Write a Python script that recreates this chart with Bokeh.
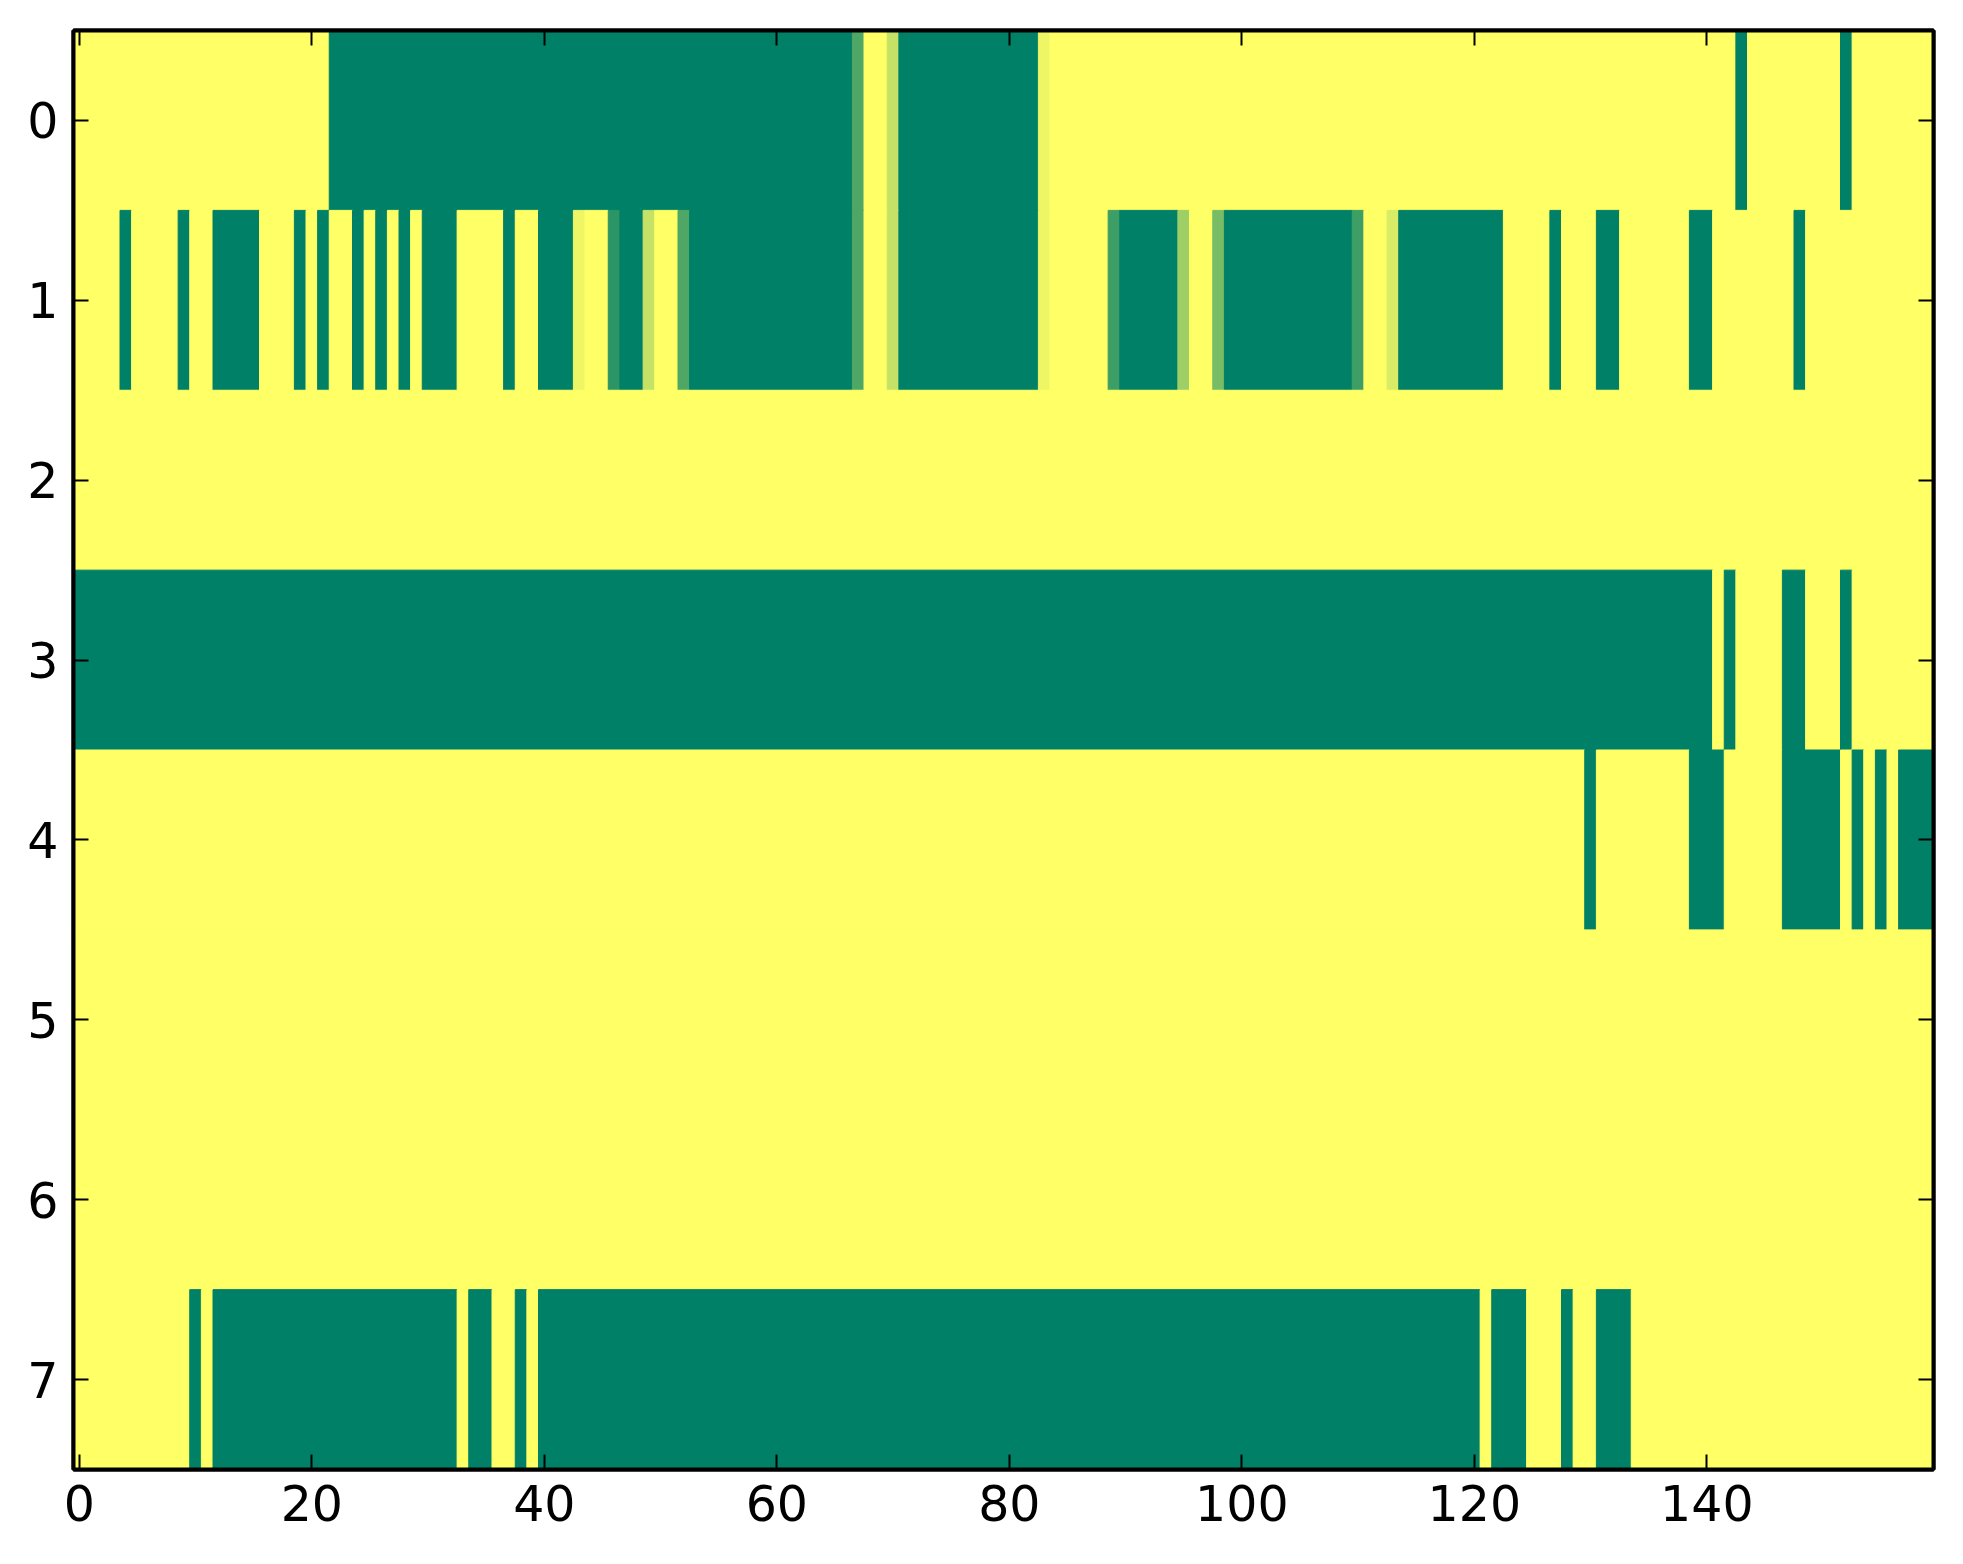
#!/usr/bin/env python3
"""Binary-ish state matrix (8 rows x 160 columns) drawn like a matplotlib
imshow with the 'summer' colormap: 0 -> green, 1 -> yellow."""
from bokeh.embed import file_html
from bokeh.models import (ColumnDataSource, FixedTicker, LinearAxis,
                          LinearColorMapper, Range1d)
from bokeh.plotting import figure
from bokeh.resources import INLINE

N_COLS = 160
X_TICKS = [0, 20, 40, 60, 80, 100, 120, 140]
Y_TICKS = [0, 1, 2, 3, 4, 5, 6, 7]

# Each row as runs of (first column, last column, value)
ROW_0 = [(0, 21, 1.0), (22, 66, 0.0), (67, 67, 0.31), (68, 69, 1.0),
         (70, 70, 0.77), (71, 82, 0.0), (83, 83, 0.93), (84, 142, 1.0),
         (143, 143, 0.0), (144, 151, 1.0), (152, 152, 0.0), (153, 159, 1.0)]
ROW_1 = [(0, 3, 1.0), (4, 4, 0.0), (5, 8, 1.0), (9, 9, 0.0), (10, 11, 1.0),
         (12, 15, 0.0), (16, 18, 1.0), (19, 19, 0.0), (20, 20, 1.0),
         (21, 21, 0.0), (22, 23, 1.0), (24, 24, 0.0), (25, 25, 1.0),
         (26, 26, 0.0), (27, 27, 1.0), (28, 28, 0.0), (29, 29, 1.0),
         (30, 32, 0.0), (33, 36, 1.0), (37, 37, 0.0), (38, 39, 1.0),
         (40, 42, 0.0), (43, 43, 0.93), (44, 45, 1.0), (46, 46, 0.17),
         (47, 48, 0.0), (49, 49, 0.77), (50, 51, 1.0), (52, 52, 0.31),
         (53, 66, 0.0), (67, 67, 0.31), (68, 69, 1.0), (70, 70, 0.77),
         (71, 82, 0.0), (83, 83, 0.93), (84, 88, 1.0), (89, 89, 0.24),
         (90, 94, 0.0), (95, 95, 0.62), (96, 97, 1.0), (98, 98, 0.47),
         (99, 109, 0.0), (110, 110, 0.24), (111, 112, 1.0), (113, 113, 0.85),
         (114, 122, 0.0), (123, 126, 1.0), (127, 127, 0.0), (128, 130, 1.0),
         (131, 132, 0.0), (133, 138, 1.0), (139, 140, 0.0), (141, 147, 1.0),
         (148, 148, 0.0), (149, 159, 1.0)]
ROW_2 = [(0, 159, 1.0)]
ROW_3 = [(0, 140, 0.0), (141, 141, 1.0), (142, 142, 0.0), (143, 146, 1.0),
         (147, 148, 0.0), (149, 151, 1.0), (152, 152, 0.0), (153, 159, 1.0)]
ROW_4 = [(0, 129, 1.0), (130, 130, 0.0), (131, 138, 1.0), (139, 141, 0.0),
         (142, 146, 1.0), (147, 151, 0.0), (152, 152, 1.0), (153, 153, 0.0),
         (154, 154, 1.0), (155, 155, 0.0), (156, 156, 1.0), (157, 159, 0.0)]
ROW_5 = [(0, 159, 1.0)]
ROW_6 = [(0, 159, 1.0)]
ROW_7 = [(0, 9, 1.0), (10, 10, 0.0), (11, 11, 1.0), (12, 32, 0.0),
         (33, 33, 1.0), (34, 35, 0.0), (36, 37, 1.0), (38, 38, 0.0),
         (39, 39, 1.0), (40, 120, 0.0), (121, 121, 1.0), (122, 124, 0.0),
         (125, 127, 1.0), (128, 128, 0.0), (129, 130, 1.0), (131, 133, 0.0),
         (134, 159, 1.0)]
ROWS = [ROW_0, ROW_1, ROW_2, ROW_3, ROW_4, ROW_5, ROW_6, ROW_7]

FONT = "DejaVu Sans"
LABEL_SIZE = "49px"


def summer_palette(n=256):
    # matplotlib 'summer': r = v, g = 0.5 + 0.5 v, b = 0.4
    out = []
    for i in range(n):
        v = i / (n - 1)
        out.append("#%02x%02x%02x" % (round(255 * v), round(255 * (0.5 + 0.5 * v)), 102))
    return out


def style_axis(ax, show_labels):
    ax.axis_line_width = 4
    ax.axis_line_color = "black"
    ax.major_tick_in = 15
    ax.major_tick_out = 0
    ax.major_tick_line_width = 2
    ax.minor_tick_line_color = None
    ax.major_label_text_font = FONT
    if show_labels:
        ax.major_label_text_color = "black"
        ax.major_label_text_font_size = LABEL_SIZE
        ax.major_label_standoff = 15
    else:
        # mirrored tick marks only, matplotlib style
        ax.major_label_text_color = None
        ax.major_label_text_font_size = "1px"
        ax.major_label_standoff = 0


def main():
    left, right, top, bottom, value = [], [], [], [], []
    for r, runs in enumerate(ROWS):
        for c0, c1, v in runs:
            left.append(c0 - 0.5)
            right.append(c1 + 0.5)
            top.append(r - 0.5)
            bottom.append(r + 0.5)
            value.append(v)
    source = ColumnDataSource(dict(left=left, right=right, top=top,
                                   bottom=bottom, value=value))
    mapper = LinearColorMapper(palette=summer_palette(), low=0, high=1)

    p = figure(
        frame_width=1860, frame_height=1439,
        x_range=Range1d(-0.5, N_COLS - 0.5),
        y_range=Range1d(len(ROWS) - 0.5, -0.5),
        output_backend="svg", toolbar_location=None, tools="",
        min_border_left=73, min_border_right=12,
        min_border_top=30, min_border_bottom=72,
        background_fill_color="white",
    )
    p.quad(left="left", right="right", top="top", bottom="bottom", source=source,
           fill_color={"field": "value", "transform": mapper},
           line_color={"field": "value", "transform": mapper}, line_width=1)

    p.grid.visible = False
    p.outline_line_color = "black"
    p.outline_line_width = 4

    p.xaxis.ticker = FixedTicker(ticks=X_TICKS)
    p.yaxis.ticker = FixedTicker(ticks=Y_TICKS)
    style_axis(p.xaxis[0], True)
    style_axis(p.yaxis[0], True)

    top_ax = LinearAxis(ticker=FixedTicker(ticks=X_TICKS))
    right_ax = LinearAxis(ticker=FixedTicker(ticks=Y_TICKS))
    style_axis(top_ax, False)
    style_axis(right_ax, False)
    p.add_layout(top_ax, "above")
    p.add_layout(right_ax, "right")

    with open("out.html", "w") as f:
        f.write(file_html(p, INLINE))


if __name__ == "__main__":
    main()
